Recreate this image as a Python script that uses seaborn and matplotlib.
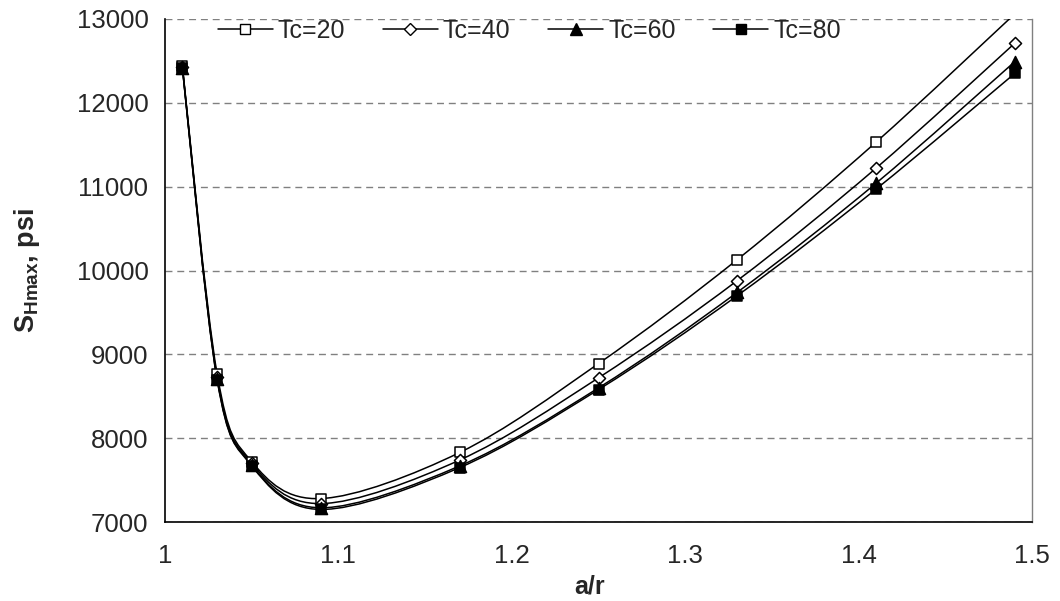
import numpy as np
import pandas as pd
import matplotlib
matplotlib.use("Agg")
import matplotlib.pyplot as plt
from matplotlib.path import Path
from matplotlib.patches import PathPatch
from matplotlib.lines import Line2D
import seaborn as sns

a_r = [1.01, 1.03, 1.05, 1.09, 1.17, 1.25, 1.33, 1.41, 1.49]
tc20 = [12440, 8770, 7720, 7280, 7830, 8890, 10130, 11530, 13060]
tc40 = [12430, 8730, 7700, 7220, 7740, 8720, 9880, 11220, 12710]
tc60 = [12420, 8710, 7680, 7170, 7670, 8600, 9740, 11040, 12490]
tc80 = [12420, 8700, 7670, 7150, 7650, 8580, 9700, 10970, 12350]
labels = ["Tc=20", "Tc=40", "Tc=60", "Tc=80"]

sns.set_style("white")
plt.rcParams["font.family"] = ["Liberation Sans", "DejaVu Sans"]
plt.rcParams["mathtext.fontset"] = "custom"
plt.rcParams["mathtext.rm"] = "Liberation Sans"
plt.rcParams["mathtext.bf"] = "Liberation Sans:bold"

fig = plt.figure(figsize=(10.6, 6.01), dpi=100)
ax = fig.add_axes([0.1557, 0.1314, 0.8179, 0.837])

styles = [
    dict(marker="s", facecolor="white", s=55),
    dict(marker="D", facecolor="white", s=38),
    dict(marker="^", facecolor="black", s=75),
    dict(marker="s", facecolor="black", s=55),
]


def smooth_path(x, y):
    # excel-like smoothed line: cubic bezier, catmull-rom control points
    p = np.column_stack([x, y]).astype(float)
    n = len(p)
    verts = [p[0]]
    codes = [Path.MOVETO]
    for i in range(n - 1):
        p0 = p[max(i - 1, 0)]
        p3 = p[min(i + 2, n - 1)]
        c1 = p[i] + (p[i + 1] - p0) / 6
        c2 = p[i + 1] - (p3 - p[i]) / 6
        verts += [c1, c2, p[i + 1]]
        codes += [Path.CURVE4] * 3
    return Path(verts, codes)


handles = []
for vals, lab, st in zip([tc20, tc40, tc60, tc80], labels, styles):
    ax.add_patch(PathPatch(smooth_path(a_r, vals), fill=False,
                           edgecolor="black", lw=1.1, zorder=3))
    df = pd.DataFrame({"a_r": a_r, "S": vals})
    df = df[df["S"] <= 13000]
    sns.scatterplot(data=df, x="a_r", y="S", ax=ax, marker=st["marker"],
                    s=st["s"], facecolor=st["facecolor"], edgecolor="black",
                    linewidth=1.1, zorder=4, legend=False)
    handles.append(Line2D([], [], color="black", lw=1.1, marker=st["marker"],
                          markerfacecolor=st["facecolor"], markeredgecolor="black",
                          markersize=np.sqrt(st["s"])))

ax.set_xlim(1, 1.5)
ax.set_ylim(7000, 13000)
ax.set_xticks([1, 1.1, 1.2, 1.3, 1.4, 1.5])
ax.set_xticklabels(["1", "1.1", "1.2", "1.3", "1.4", "1.5"])
ax.set_yticks(range(7000, 13001, 1000))
ax.yaxis.grid(True, color="#808080", linestyle=(0, (5, 3.5)), lw=1)
ax.xaxis.grid(False)
ax.tick_params(axis="both", labelsize=18.5, direction="out", length=6,
               width=1, color="black", pad=6)
ax.tick_params(axis="x", pad=10)

for side in ["left", "bottom"]:
    ax.spines[side].set_color("black")
    ax.spines[side].set_linewidth(1.2)
ax.spines["top"].set_visible(False)
ax.spines["right"].set_color("#808080")
ax.spines["right"].set_linewidth(1)

ax.set_xlabel("a/r", fontsize=18, fontweight="bold")
ax.xaxis.set_label_coords(0.49, -0.105)
ax.set_ylabel(r"$\mathbf{S_{Hmax}}$, psi", fontsize=19.5, fontweight="bold")
ax.yaxis.set_label_coords(-0.142, 0.5)

ax.legend(handles, labels, loc="upper left", bbox_to_anchor=(0.035, 1.045),
          ncol=4, frameon=False, fontsize=18, handlelength=2.2,
          handletextpad=0.2, columnspacing=1.5)

fig.savefig("out.png", dpi=100)
